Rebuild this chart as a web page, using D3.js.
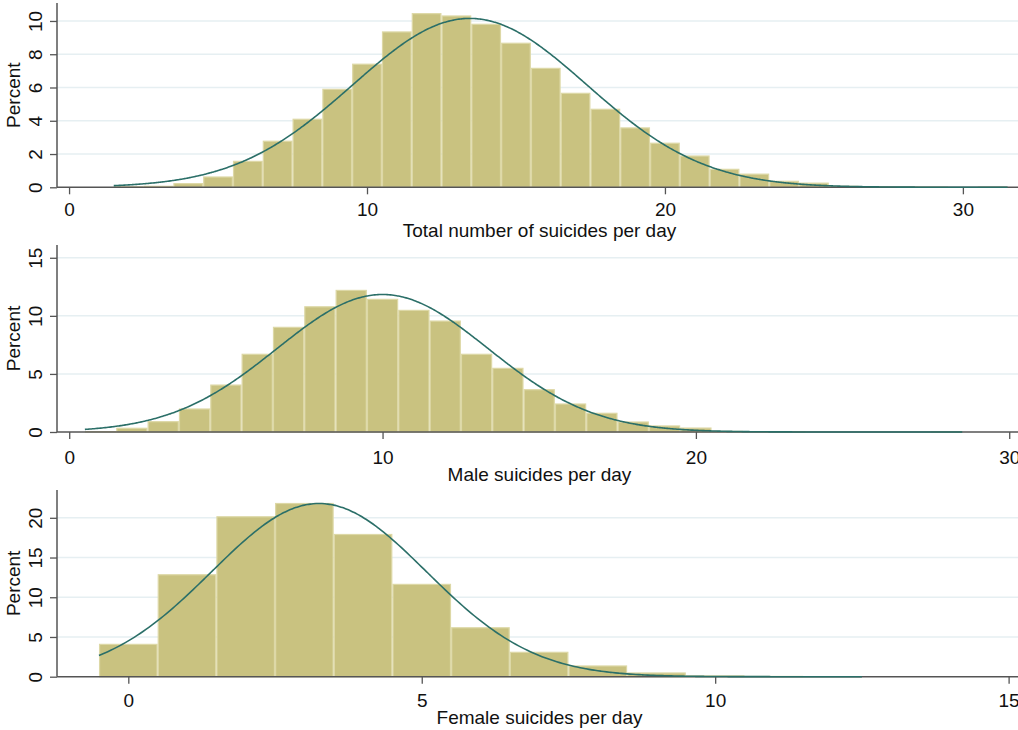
<!DOCTYPE html>
<html>
<head>
<meta charset="utf-8">
<script src="https://cdn.jsdelivr.net/npm/d3@7"></script>
<style>
  html, body { margin: 0; padding: 0; background: #fff; }
  svg { display: block; font-family: "Liberation Sans", Arial, sans-serif; }
</style>
</head>
<body>
<svg id="chart" width="1018" height="730"></svg>
<script>
// Daily suicide counts: percent of days at each count (bin width 1)
const totalCounts = [2, 3, 4, 5, 6, 7, 8, 9, 10, 11, 12, 13, 14, 15, 16, 17, 18, 19, 20, 21, 22, 23, 24, 25, 26, 27, 28, 29, 30, 31];
const totalPercent = [0.03, 0.06, 0.22, 0.62, 1.56, 2.77, 4.09, 5.89, 7.40, 9.34, 10.44, 10.30, 9.80, 8.66, 7.15, 5.65, 4.69, 3.57, 2.65, 1.88, 1.08, 0.79, 0.36, 0.25, 0.06, 0.03, 0.02, 0.01, 0.00, 0.01];

const maleCounts = [1, 2, 3, 4, 5, 6, 7, 8, 9, 10, 11, 12, 13, 14, 15, 16, 17, 18, 19, 20, 21, 22, 23, 24, 25, 26, 27, 28];
const malePercent = [0.03, 0.32, 0.89, 1.98, 4.04, 6.69, 9.01, 10.78, 12.19, 11.42, 10.47, 9.55, 6.69, 5.48, 3.64, 2.41, 1.61, 0.86, 0.52, 0.34, 0.05, 0.02, 0.01, 0.00, 0.00, 0.00, 0.00, 0.01];

const femaleCounts = [0, 1, 2, 3, 4, 5, 6, 7, 8, 9, 10, 11, 12];
const femalePercent = [4.07, 12.83, 20.13, 21.80, 17.90, 11.62, 6.16, 3.07, 1.35, 0.47, 0.10, 0.03, 0.01];

// Fitted normal densities (mean, standard deviation)
const totalFit = { mean: 13.45, sd: 3.93 };
const maleFit = { mean: 10.0, sd: 3.37 };
const femaleFit = { mean: 3.25, sd: 1.83 };

// Axis ticks and titles
const totalXTicks = [0, 10, 20, 30];
const totalYTicks = [0, 2, 4, 6, 8, 10];
const maleXTicks = [0, 10, 20, 30];
const maleYTicks = [0, 5, 10, 15];
const femaleXTicks = [0, 5, 10, 15];
const femaleYTicks = [0, 5, 10, 15, 20];
const totalTitle = "Total number of suicides per day";
const maleTitle = "Male suicides per day";
const femaleTitle = "Female suicides per day";
const yTitle = "Percent";

const panels = [
  { counts: totalCounts, pct: totalPercent, fit: totalFit, xTicks: totalXTicks, yTicks: totalYTicks, title: totalTitle,
    xDomain: [-0.405, 31.85], yDomain: [0, 11.08], top: 3, bottom: 187.3, tickLabelGap: 22.3, titleBase: 237 },
  { counts: maleCounts, pct: malePercent, fit: maleFit, xTicks: maleXTicks, yTicks: maleYTicks, title: maleTitle,
    xDomain: [-0.39, 30.28], yDomain: [0, 16.1], top: 245, bottom: 432, tickLabelGap: 25.5, titleBase: 480.5 },
  { counts: femaleCounts, pct: femalePercent, fit: femaleFit, xTicks: femaleXTicks, yTicks: femaleYTicks, title: femaleTitle,
    xDomain: [-1.215, 15.16], yDomain: [0, 23.5], top: 490, bottom: 676.7, tickLabelGap: 23.5, titleBase: 723.5 }
];

const left = 57, right = 1018;
const barFill = "#c9c280", barEdge = "#ddd8a6";
const curveColor = "#2b6f68";
const gridColor = "#e6eff2";
const axisColor = "#555";
const fontSize = 19;
const digitHalf = fontSize * 0.36;

const svg = d3.select("#chart");

const normalPdf = (v, m, s) => Math.exp(-0.5 * ((v - m) / s) ** 2) / (s * Math.sqrt(2 * Math.PI));

panels.forEach(p => {
  const x = d3.scaleLinear().domain(p.xDomain).range([left, right]);
  const y = d3.scaleLinear().domain(p.yDomain).range([p.bottom, p.top]);
  const g = svg.append("g");

  // horizontal gridlines
  g.selectAll("line.grid").data(p.yTicks.filter(t => t > 0)).join("line")
    .attr("class", "grid")
    .attr("x1", left).attr("x2", right)
    .attr("y1", d => y(d)).attr("y2", d => y(d))
    .attr("stroke", gridColor).attr("stroke-width", 1.5);

  // histogram bars
  const bins = p.counts.map((c, i) => ({ c, v: p.pct[i] }));
  g.selectAll("rect.bar").data(bins).join("rect")
    .attr("class", "bar")
    .attr("x", d => x(d.c - 0.5) + 0.6)
    .attr("width", d => x(d.c + 0.5) - x(d.c - 0.5) - 1.2)
    .attr("y", d => y(d.v))
    .attr("height", d => y(0) - y(d.v))
    .attr("fill", barFill)
    .attr("stroke", barEdge).attr("stroke-width", 1.2);

  // x axis
  const xAxis = d3.axisBottom(x).tickValues(p.xTicks).tickFormat(d3.format("d"))
    .tickSize(7).tickPadding(p.tickLabelGap - 7 - digitHalf);
  const xa = g.append("g").attr("transform", `translate(0,${p.bottom})`).call(xAxis);
  xa.select(".domain").attr("d", `M${left},0H${right}`).attr("stroke", axisColor).attr("stroke-width", 1.5);
  xa.selectAll(".tick line").attr("stroke", axisColor).attr("stroke-width", 1.3);
  xa.selectAll(".tick text").attr("font-size", fontSize).attr("fill", "#111")
    .attr("font-family", "Liberation Sans, Arial, sans-serif");

  // y axis with rotated labels
  const yAxis = d3.axisLeft(y).tickValues(p.yTicks).tickFormat(d3.format("d")).tickSize(7);
  const ya = g.append("g").attr("transform", `translate(${left},0)`).call(yAxis);
  ya.select(".domain").attr("d", `M0,${p.top}V${p.bottom}`).attr("stroke", axisColor).attr("stroke-width", 1.5);
  ya.selectAll(".tick line").attr("stroke", axisColor).attr("stroke-width", 1.3);
  ya.selectAll(".tick text")
    .attr("x", null).attr("dy", null)
    .attr("transform", "translate(-15.5,0) rotate(-90)")
    .attr("text-anchor", "middle")
    .attr("y", 0)
    .attr("font-size", fontSize).attr("fill", "#111")
    .attr("font-family", "Liberation Sans, Arial, sans-serif");

  // fitted normal curve over the range of the bins
  const lo = d3.min(p.counts) - 0.5, hi = d3.max(p.counts) + 0.5;
  const pts = d3.range(lo, hi + 1e-9, 0.05).map(v => [v, 100 * normalPdf(v, p.fit.mean, p.fit.sd)]);
  g.append("path").datum(pts)
    .attr("d", d3.line().x(d => x(d[0])).y(d => y(d[1])).curve(d3.curveMonotoneX))
    .attr("fill", "none").attr("stroke", curveColor).attr("stroke-width", 1.6);

  // axis titles
  g.append("text").attr("x", (left + right) / 2 + 2).attr("y", p.titleBase)
    .attr("text-anchor", "middle").attr("font-size", fontSize).attr("fill", "#111")
    .text(p.title);
  g.append("text")
    .attr("transform", `translate(19.5,${(p.top + p.bottom) / 2}) rotate(-90)`)
    .attr("text-anchor", "middle").attr("font-size", fontSize).attr("fill", "#111")
    .text(yTitle);
});
</script>
</body>
</html>
